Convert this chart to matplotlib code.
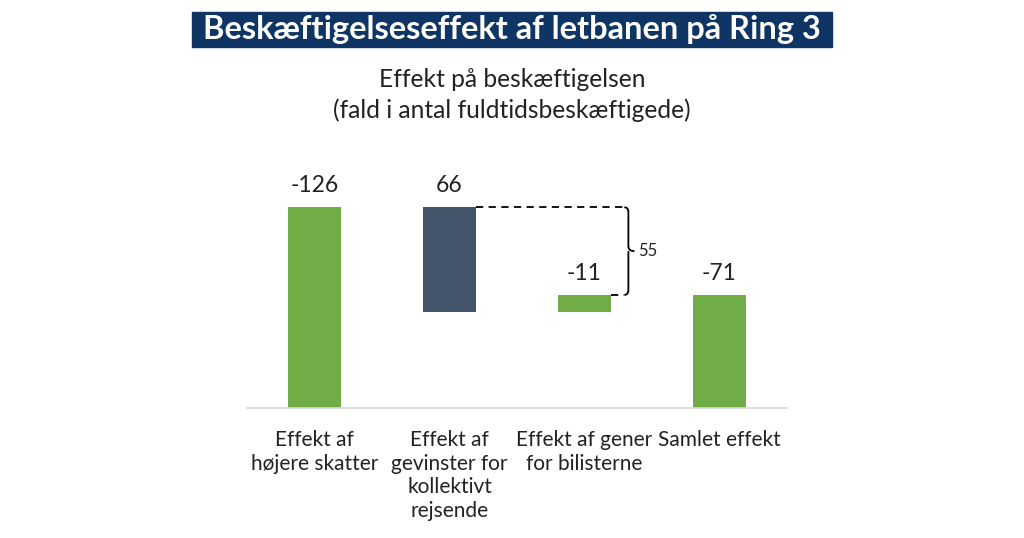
import matplotlib.pyplot as plt
from matplotlib.patches import Rectangle, PathPatch
from matplotlib.path import Path

plt.rcParams['font.family'] = ['Lato', 'DejaVu Sans']

categories = ['Effekt af\nhøjere skatter', 'Effekt af\ngevinster for\nkollektivt\nrejsende',
              'Effekt af gener\nfor bilisterne', 'Samlet effekt']
labels = ['-126', '66', '-11', '-71']
bar_bottom = [0, 60, 60, 0]
bar_top = [126, 126, 71, 71]
colors = ['#70AD47', '#44546A', '#70AD47', '#70AD47']
bracket_label = '55'

fig = plt.figure(figsize=(10.24, 5.38), dpi=100)
ax = fig.add_axes([247 / 1024, 130 / 538, 540 / 1024, 223 / 538])

x = range(len(categories))
heights = [t - b for t, b in zip(bar_top, bar_bottom)]
ax.bar(x, heights, bottom=bar_bottom, width=0.39, color=colors)

for i, (lab, top) in enumerate(zip(labels, bar_top)):
    ax.text(i, top + 7, lab, ha='center', va='bottom', fontsize=16.5, color='#222222')

# dashed connectors to the bracket
bx = 2.32
ax.plot([1 + 0.195, bx - 0.03], [bar_top[1], bar_top[1]], ls='--', color='black', lw=1.3, dashes=(4, 3))
ax.plot([2 + 0.195, bx - 0.03], [bar_top[2], bar_top[2]], ls='--', color='black', lw=1.3, dashes=(4, 3))

# curly brace
y0, y1 = bar_top[2], bar_top[1]
ym = (y0 + y1) / 2
d = 0.025
e = 3
verts = [(bx - d, y1), (bx + 0.005, y1), (bx + 0.005, y1 - e),
         (bx + 0.005, ym + e),
         (bx + 0.005, ym), (bx + 2 * d, ym),
         (bx + 0.005, ym), (bx + 0.005, ym - e),
         (bx + 0.005, y0 + e),
         (bx + 0.005, y0), (bx - d, y0)]
codes = [Path.MOVETO, Path.CURVE3, Path.CURVE3, Path.LINETO,
         Path.CURVE3, Path.CURVE3, Path.MOVETO, Path.CURVE3,
         Path.LINETO, Path.CURVE3, Path.CURVE3]
ax.add_patch(PathPatch(Path(verts, codes), fill=False, lw=1.3, color='black'))
ax.text(bx + 0.08, ym, bracket_label, ha='left', va='center', fontsize=12, color='#222222')

ax.set_xlim(-0.5, 3.5)
ax.set_ylim(0, 140)
ax.set_xticks(list(x))
ax.set_xticklabels(categories, fontsize=15, color='#222222', linespacing=1.22)
ax.tick_params(axis='x', length=0, pad=16)
ax.set_yticks([])
for s in ['top', 'right', 'left']:
    ax.spines[s].set_visible(False)
ax.spines['bottom'].set_color('#D9D9D9')
ax.spines['bottom'].set_linewidth(1.2)

# title banner
fig.patches.append(Rectangle((192 / 1024, 1 - 47 / 538), 640 / 1024, 35 / 538,
                             transform=fig.transFigure, color='#0E3563'))
fig.text(512 / 1024, 1 - 29.5 / 538, 'Beskæftigelseseffekt af letbanen på Ring 3',
         ha='center', va='center', fontsize=23.5, fontweight='bold', color='white')
fig.text(512 / 1024, 1 - 95 / 538, 'Effekt på beskæftigelsen\n(fald i antal fuldtidsbeskæftigede)',
         ha='center', va='center', fontsize=17.7, color='#222222', linespacing=1.38)

fig.savefig('out.png', dpi=100)
